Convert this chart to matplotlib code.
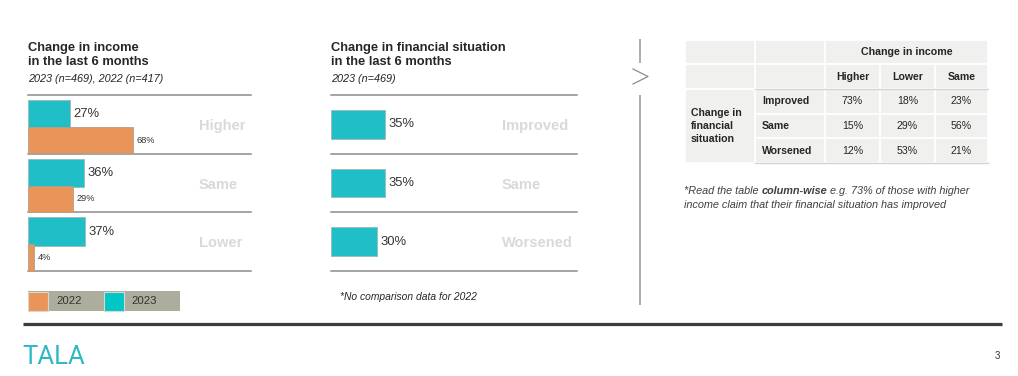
import matplotlib
matplotlib.use("Agg")
import matplotlib.pyplot as plt
from matplotlib.patches import Rectangle

plt.rcParams['font.family'] = ['Liberation Sans', 'DejaVu Sans']

# ---------------- data ----------------
income_cats = ["Higher", "Same", "Lower"]
income_2023 = [27, 36, 37]
income_2022 = [68, 29, 4]

fin_cats = ["Improved", "Same", "Worsened"]
fin_2023 = [35, 35, 30]

table_cols = ["Higher", "Lower", "Same"]
table_rows = ["Improved", "Same", "Worsened"]
table_vals = [[73, 18, 23],
              [15, 29, 56],
              [12, 53, 21]]

TEAL = "#20bec6"
ORANGE = "#e9955a"
DARK = "#333333"
CATGRAY = "#d9d9d9"
RULE = "#8c8c8c"

W, H = 1018, 376
fig = plt.figure(figsize=(W / 100, H / 100), dpi=100)

# overlay axes in pixel coordinates
ov = fig.add_axes([0, 0, 1, 1])
ov.set_xlim(0, W)
ov.set_ylim(H, 0)
ov.axis("off")

PX_PER_PCT = 1.545


def chart_axes(x0, x1, y0, y1):
    ax = fig.add_axes([x0 / W, 1 - y1 / H, (x1 - x0) / W, (y1 - y0) / H])
    ax.set_xlim(0, (x1 - x0) / PX_PER_PCT)
    ax.set_ylim(2.5, -0.5)
    ax.axis("off")
    ax.patch.set_alpha(0)
    for yy in [-0.5, 0.5, 1.5, 2.5]:
        ax.axhline(yy, color=RULE, lw=1.1, clip_on=False, zorder=1)
    return ax


# ---------------- left chart ----------------
axL = chart_axes(28, 251, 95, 271)
pos = list(range(len(income_cats)))
tpos = [p - 0.17 for p in pos]
opos = [p + 0.27 for p in pos]
axL.barh(tpos, income_2023, height=0.49, color=TEAL, edgecolor="#9fb7b8",
         linewidth=0.6, zorder=2, clip_on=False)
axL.barh(opos, income_2022, height=0.45, color=ORANGE, edgecolor="#b0a090",
         linewidth=0.6, zorder=2, clip_on=False)
for y, v in zip(tpos, income_2023):
    axL.annotate(f"{v}%", (v, y), xytext=(2.5, 0), textcoords="offset points",
                 va="center", ha="left", fontsize=9.4, color=DARK)
for y, v in zip(opos, income_2022):
    axL.annotate(f"{v}%", (v, y), xytext=(2.8, 0), textcoords="offset points",
                 va="center", ha="left", fontsize=6.7, color=DARK)
for p, c in zip(pos, income_cats):
    axL.text(110.7, p + 0.03, c, fontsize=10.5, fontweight="bold",
             color=CATGRAY, va="center", ha="left")

# ---------------- middle chart ----------------
axM = chart_axes(331, 577, 95, 271)
axM.barh(pos, fin_2023, height=0.49, color=TEAL, edgecolor="#9fb7b8",
         linewidth=0.6, zorder=2)
for p, v in zip(pos, fin_2023):
    axM.annotate(f"{v}%", (v, p), xytext=(2.5, 0), textcoords="offset points",
                 va="center", ha="left", fontsize=9.4, color=DARK)
for p, c in zip(pos, fin_cats):
    axM.text(110.7, p + 0.03, c, fontsize=10.5, fontweight="bold",
             color=CATGRAY, va="center", ha="left")

# ---------------- titles ----------------
TITLE_C = "#262626"
ov.text(28, 51, "Change in income", fontsize=9.3, fontweight="bold",
        color=TITLE_C, va="baseline")
ov.text(28, 65, "in the last 6 months", fontsize=9.3, fontweight="bold",
        color=TITLE_C, va="baseline")
ov.text(28, 82, "2023 (n=469), 2022 (n=417)", fontsize=7.8, style="italic",
        color=TITLE_C, va="baseline")
ov.text(331, 51, "Change in financial situation", fontsize=9.3,
        fontweight="bold", color=TITLE_C, va="baseline")
ov.text(331, 65, "in the last 6 months", fontsize=9.3, fontweight="bold",
        color=TITLE_C, va="baseline")
ov.text(331, 82, "2023 (n=469)", fontsize=7.8, style="italic",
        color=TITLE_C, va="baseline")

ov.text(340, 300, "*No comparison data for 2022", fontsize=7.4,
        style="italic", color=TITLE_C, va="baseline")

# ---------------- legend ----------------
ov.add_patch(Rectangle((28, 291), 152, 20, facecolor="#adad9d",
                       edgecolor="none"))
ov.add_patch(Rectangle((28.5, 291.5), 20, 19, facecolor=ORANGE,
                       edgecolor="#d8d8d0", lw=0.8))
ov.add_patch(Rectangle((104, 291.5), 20, 19, facecolor="#00c6c6",
                       edgecolor="#d8d8d0", lw=0.8))
ov.text(56, 301.5, "2022", fontsize=8.2, color=DARK, va="center")
ov.text(131, 301.5, "2023", fontsize=8.2, color=DARK, va="center")

# ---------------- separator ----------------
SEP = "#a6a6a6"
ov.plot([640, 640], [39, 63], color=SEP, lw=1.3, solid_capstyle="butt")
ov.plot([640, 640], [95, 305], color=SEP, lw=1.3, solid_capstyle="butt")
ov.plot([633, 648, 633], [69, 76.5, 84], color="#8c8c8c", lw=0.9)

# ---------------- table ----------------
xs = [685, 755, 825, 880, 935, 988]
ys = [40, 64, 89, 114, 138, 163]
CELL = "#f0f0ee"


def cell(x0, x1, y0, y1):
    ov.add_patch(Rectangle((x0, y0), x1 - x0, y1 - y0, facecolor=CELL,
                           edgecolor="white", lw=1.3))


# header rows
for r in range(2):
    cell(xs[0], xs[1], ys[r], ys[r + 1])
    cell(xs[1], xs[2], ys[r], ys[r + 1])
cell(xs[2], xs[5], ys[0], ys[1])
for c in range(3):
    cell(xs[2 + c], xs[3 + c], ys[1], ys[2])
# merged row-header
cell(xs[0], xs[1], ys[2], ys[5])
for r in range(3):
    for c in range(4):
        cell(xs[1 + c], xs[2 + c], ys[2 + r], ys[3 + r])
ov.plot([xs[1], xs[5]], [ys[2], ys[2]], color="#d4d4d4", lw=1)
ov.plot([xs[1], xs[5]], [ys[5], ys[5]], color="#d4d4d4", lw=1)

TXT = "#262626"
TFS = 7.6
ov.text((xs[2] + xs[5]) / 2, (ys[0] + ys[1]) / 2, "Change in income",
        fontsize=7.7, fontweight="bold", color=TXT, ha="center", va="center")
for c, name in enumerate(table_cols):
    ov.text((xs[2 + c] + xs[3 + c]) / 2, (ys[1] + ys[2]) / 2 + 0.5, name,
            fontsize=TFS, fontweight="bold", color=TXT, ha="center",
            va="center")
for r, name in enumerate(table_rows):
    yc = (ys[2 + r] + ys[3 + r]) / 2
    ov.text(xs[1] + 7, yc, name, fontsize=TFS, fontweight="bold", color=TXT,
            ha="left", va="center")
    for c in range(3):
        ov.text((xs[2 + c] + xs[3 + c]) / 2, yc, f"{table_vals[r][c]}%",
                fontsize=TFS, color=TXT, ha="center", va="center")
for i, line in enumerate(["Change in", "financial", "situation"]):
    ov.text(xs[0] + 6, 113 + 13 * i, line, fontsize=TFS, fontweight="bold",
            color=TXT, ha="left", va="center")

# table footnote with mixed styles
FN_C = "#404040"
FN_FS = 7.8
fig.canvas.draw()
renderer = fig.canvas.get_renderer()
parts = [("*Read the table ", "normal"), ("column-wise", "bold"),
         (" e.g. 73% of those with higher", "normal")]
xcur = 684
inv = ov.transData.inverted()
for txt, wt in parts:
    t = ov.text(xcur, 194, txt, fontsize=FN_FS, style="italic", fontweight=wt,
                color=FN_C, va="baseline", ha="left")
    bb = t.get_window_extent(renderer=renderer)
    xcur = inv.transform((bb.x1, bb.y0))[0]
ov.text(684, 207.5, "income claim that their financial situation has improved",
        fontsize=FN_FS, style="italic", color=FN_C, va="baseline", ha="left")

# ---------------- footer ----------------
ov.plot([23, 1002], [323.5, 323.5], color="#3c3c3c", lw=2.3,
        solid_capstyle="butt")
ov.text(22, 364, "TALA", fontsize=18.5, family=["Roboto", "DejaVu Sans"],
        fontweight="normal", color="#2db8c5", va="baseline", ha="left")
ov.text(1000, 359, "3", fontsize=7, color=DARK, va="baseline", ha="right")

fig.savefig("out.png", dpi=100)
